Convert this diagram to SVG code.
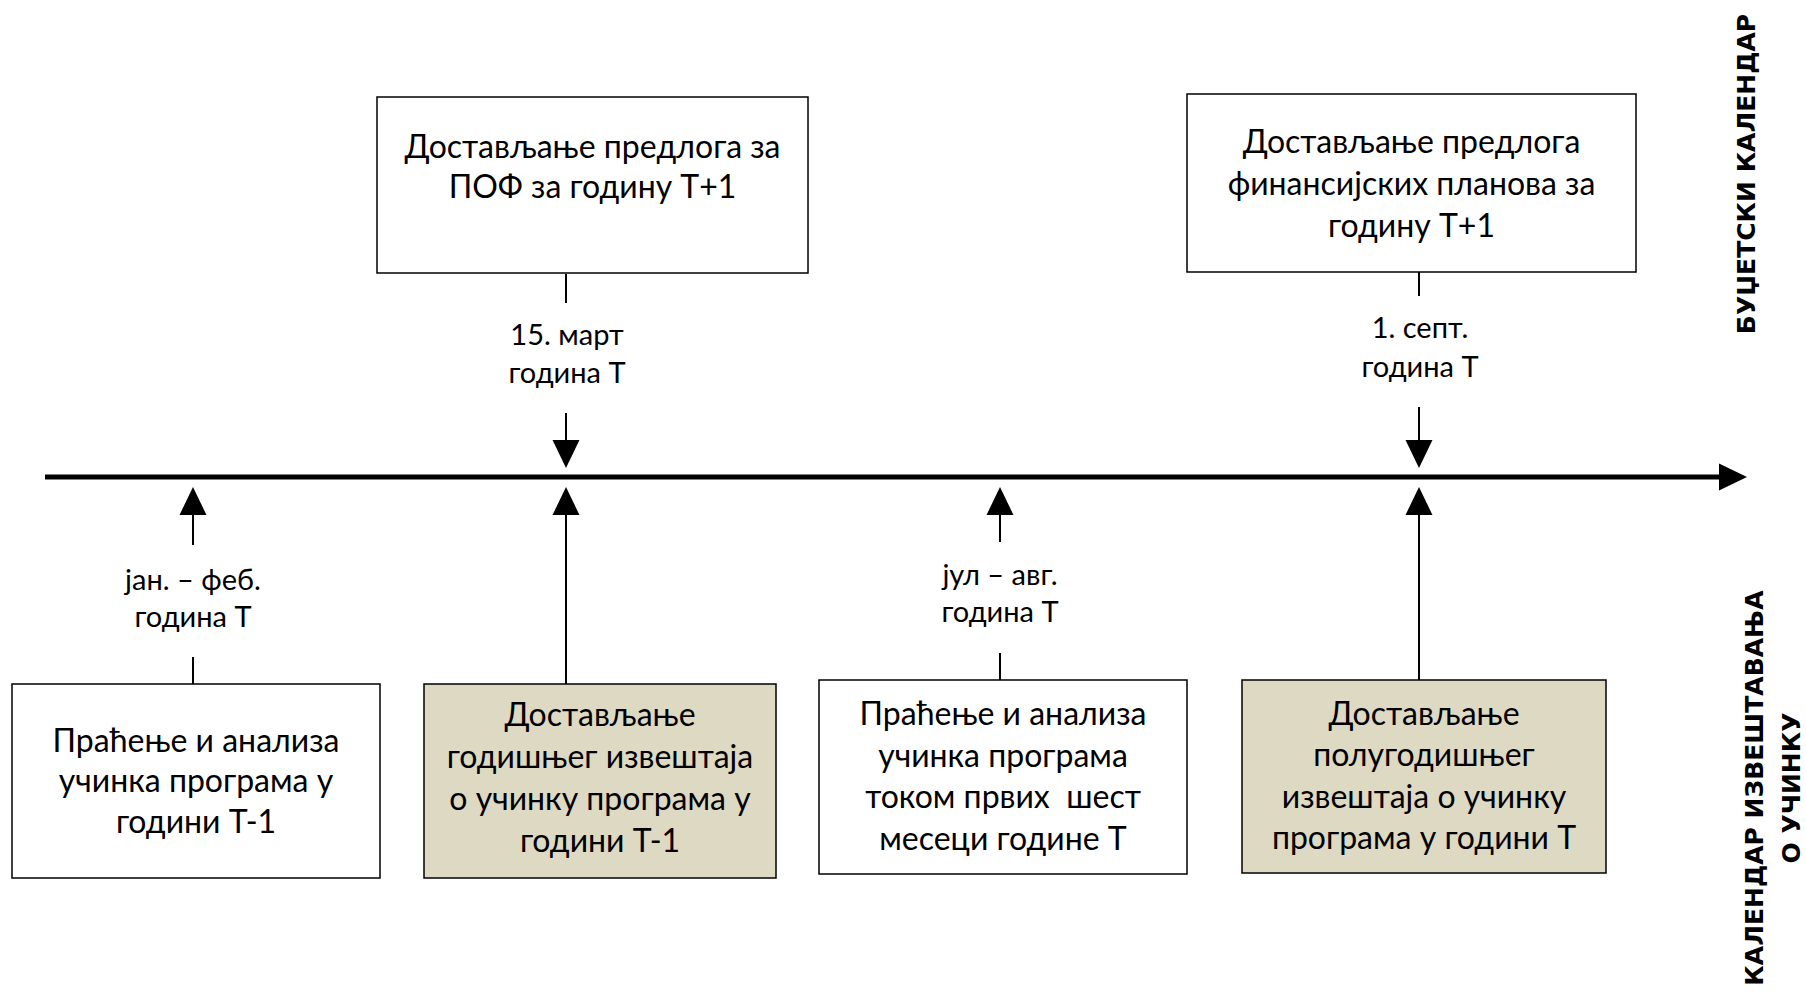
<svg xmlns="http://www.w3.org/2000/svg" width="1806" height="995" viewBox="0 0 1806 995">
<style>
.box{fill:#ffffff;stroke:#000000;stroke-width:1.5}
.shade{fill:#DDD9C3}
.t{font-family:Lato,"Liberation Sans",sans-serif;font-size:32px;fill:#000;text-anchor:middle}
.l{font-family:Lato,"Liberation Sans",sans-serif;font-size:29px;fill:#000;text-anchor:middle}
.v{font-family:"DejaVu Sans",sans-serif;font-weight:bold;font-size:25px;fill:#000;text-anchor:middle}
.c{stroke:#000;stroke-width:2;fill:none}
.axis{stroke:#000;stroke-width:5;fill:none}
</style>
<defs>
<marker id="ah" markerUnits="userSpaceOnUse" markerWidth="28" markerHeight="28" viewBox="0 -13 27 26" refX="0" refY="0" orient="auto" overflow="visible">
<path d="M0,-13 L27,0 L0,13 z" fill="#000"/>
</marker>
</defs>
<rect width="1806" height="995" fill="#ffffff"/>
<g id="connectors">
<line class="axis" x1="45" y1="477" x2="1719" y2="477" marker-end="url(#ah)"/>
<line class="c" x1="566" y1="274" x2="566" y2="303"/>
<line class="c" x1="566" y1="413" x2="566" y2="440" marker-end="url(#ah)"/>
<line class="c" x1="1419" y1="272" x2="1419" y2="296"/>
<line class="c" x1="1419" y1="407" x2="1419" y2="440" marker-end="url(#ah)"/>
<line class="c" x1="193" y1="684" x2="193" y2="657"/>
<line class="c" x1="193" y1="545" x2="193" y2="515" marker-end="url(#ah)"/>
<line class="c" x1="566" y1="684" x2="566" y2="515" marker-end="url(#ah)"/>
<line class="c" x1="1000" y1="680" x2="1000" y2="653"/>
<line class="c" x1="1000" y1="542" x2="1000" y2="515" marker-end="url(#ah)"/>
<line class="c" x1="1419" y1="680" x2="1419" y2="515" marker-end="url(#ah)"/>
</g>
<g id="label-mar">
<text class="l" x="567" y="345">15. март</text>
<text class="l" x="567" y="383">година Т</text>
</g>
<g id="label-sep">
<text class="l" x="1420" y="338">1. септ.</text>
<text class="l" x="1420" y="377">година Т</text>
</g>
<g id="label-jan">
<text class="l" x="193" y="590">јан. – феб.</text>
<text class="l" x="193" y="627">година Т</text>
</g>
<g id="label-jul">
<text class="l" x="1000" y="585">јул – авг.</text>
<text class="l" x="1000" y="622">година Т</text>
</g>
<g id="node-pof">
<rect class="box" x="377" y="97" width="431" height="176"/>
<text class="t" x="592.5" y="158">Достављање предлога за</text>
<text class="t" x="592.5" y="198">ПОФ за годину Т+1</text>
</g>
<g id="node-fin">
<rect class="box" x="1187" y="94" width="449" height="178"/>
<text class="t" x="1411.5" y="153">Достављање предлога</text>
<text class="t" x="1411.5" y="195">финансијских планова за</text>
<text class="t" x="1411.5" y="237">годину Т+1</text>
</g>
<g id="node-analysis1">
<rect class="box" x="12" y="684" width="368" height="194"/>
<text class="t" x="196" y="752">Праћење и анализа</text>
<text class="t" x="196" y="792">учинка програма у</text>
<text class="t" x="196" y="833">години Т-1</text>
</g>
<g id="node-annual">
<rect class="box shade" x="424" y="684" width="352" height="194"/>
<text class="t" x="600" y="726">Достављање</text>
<text class="t" x="600" y="768">годишњег извештаја</text>
<text class="t" x="600" y="810">о учинку програма у</text>
<text class="t" x="600" y="852">години Т-1</text>
</g>
<g id="node-analysis2">
<rect class="box" x="819" y="680" width="368" height="194"/>
<text class="t" x="1003" y="725">Праћење и анализа</text>
<text class="t" x="1003" y="767">учинка програма</text>
<text class="t" x="1003" y="808" xml:space="preserve">током првих  шест</text>
<text class="t" x="1003" y="850">месеци године Т</text>
</g>
<g id="node-semiannual">
<rect class="box shade" x="1242" y="680" width="364" height="193"/>
<text class="t" x="1424" y="725">Достављање</text>
<text class="t" x="1424" y="766">полугодишњег</text>
<text class="t" x="1424" y="808">извештаја о учинку</text>
<text class="t" x="1424" y="849">програма у години Т</text>
</g>
<g id="side-labels">
<text class="v" transform="translate(1755,174) rotate(-90)">БУЏЕТСКИ КАЛЕНДАР</text>
<text class="v" transform="translate(1763,788) rotate(-90)">КАЛЕНДАР ИЗВЕШТАВАЊА</text>
<text class="v" transform="translate(1800,788) rotate(-90)">О УЧИНКУ</text>
</g>
</svg>
